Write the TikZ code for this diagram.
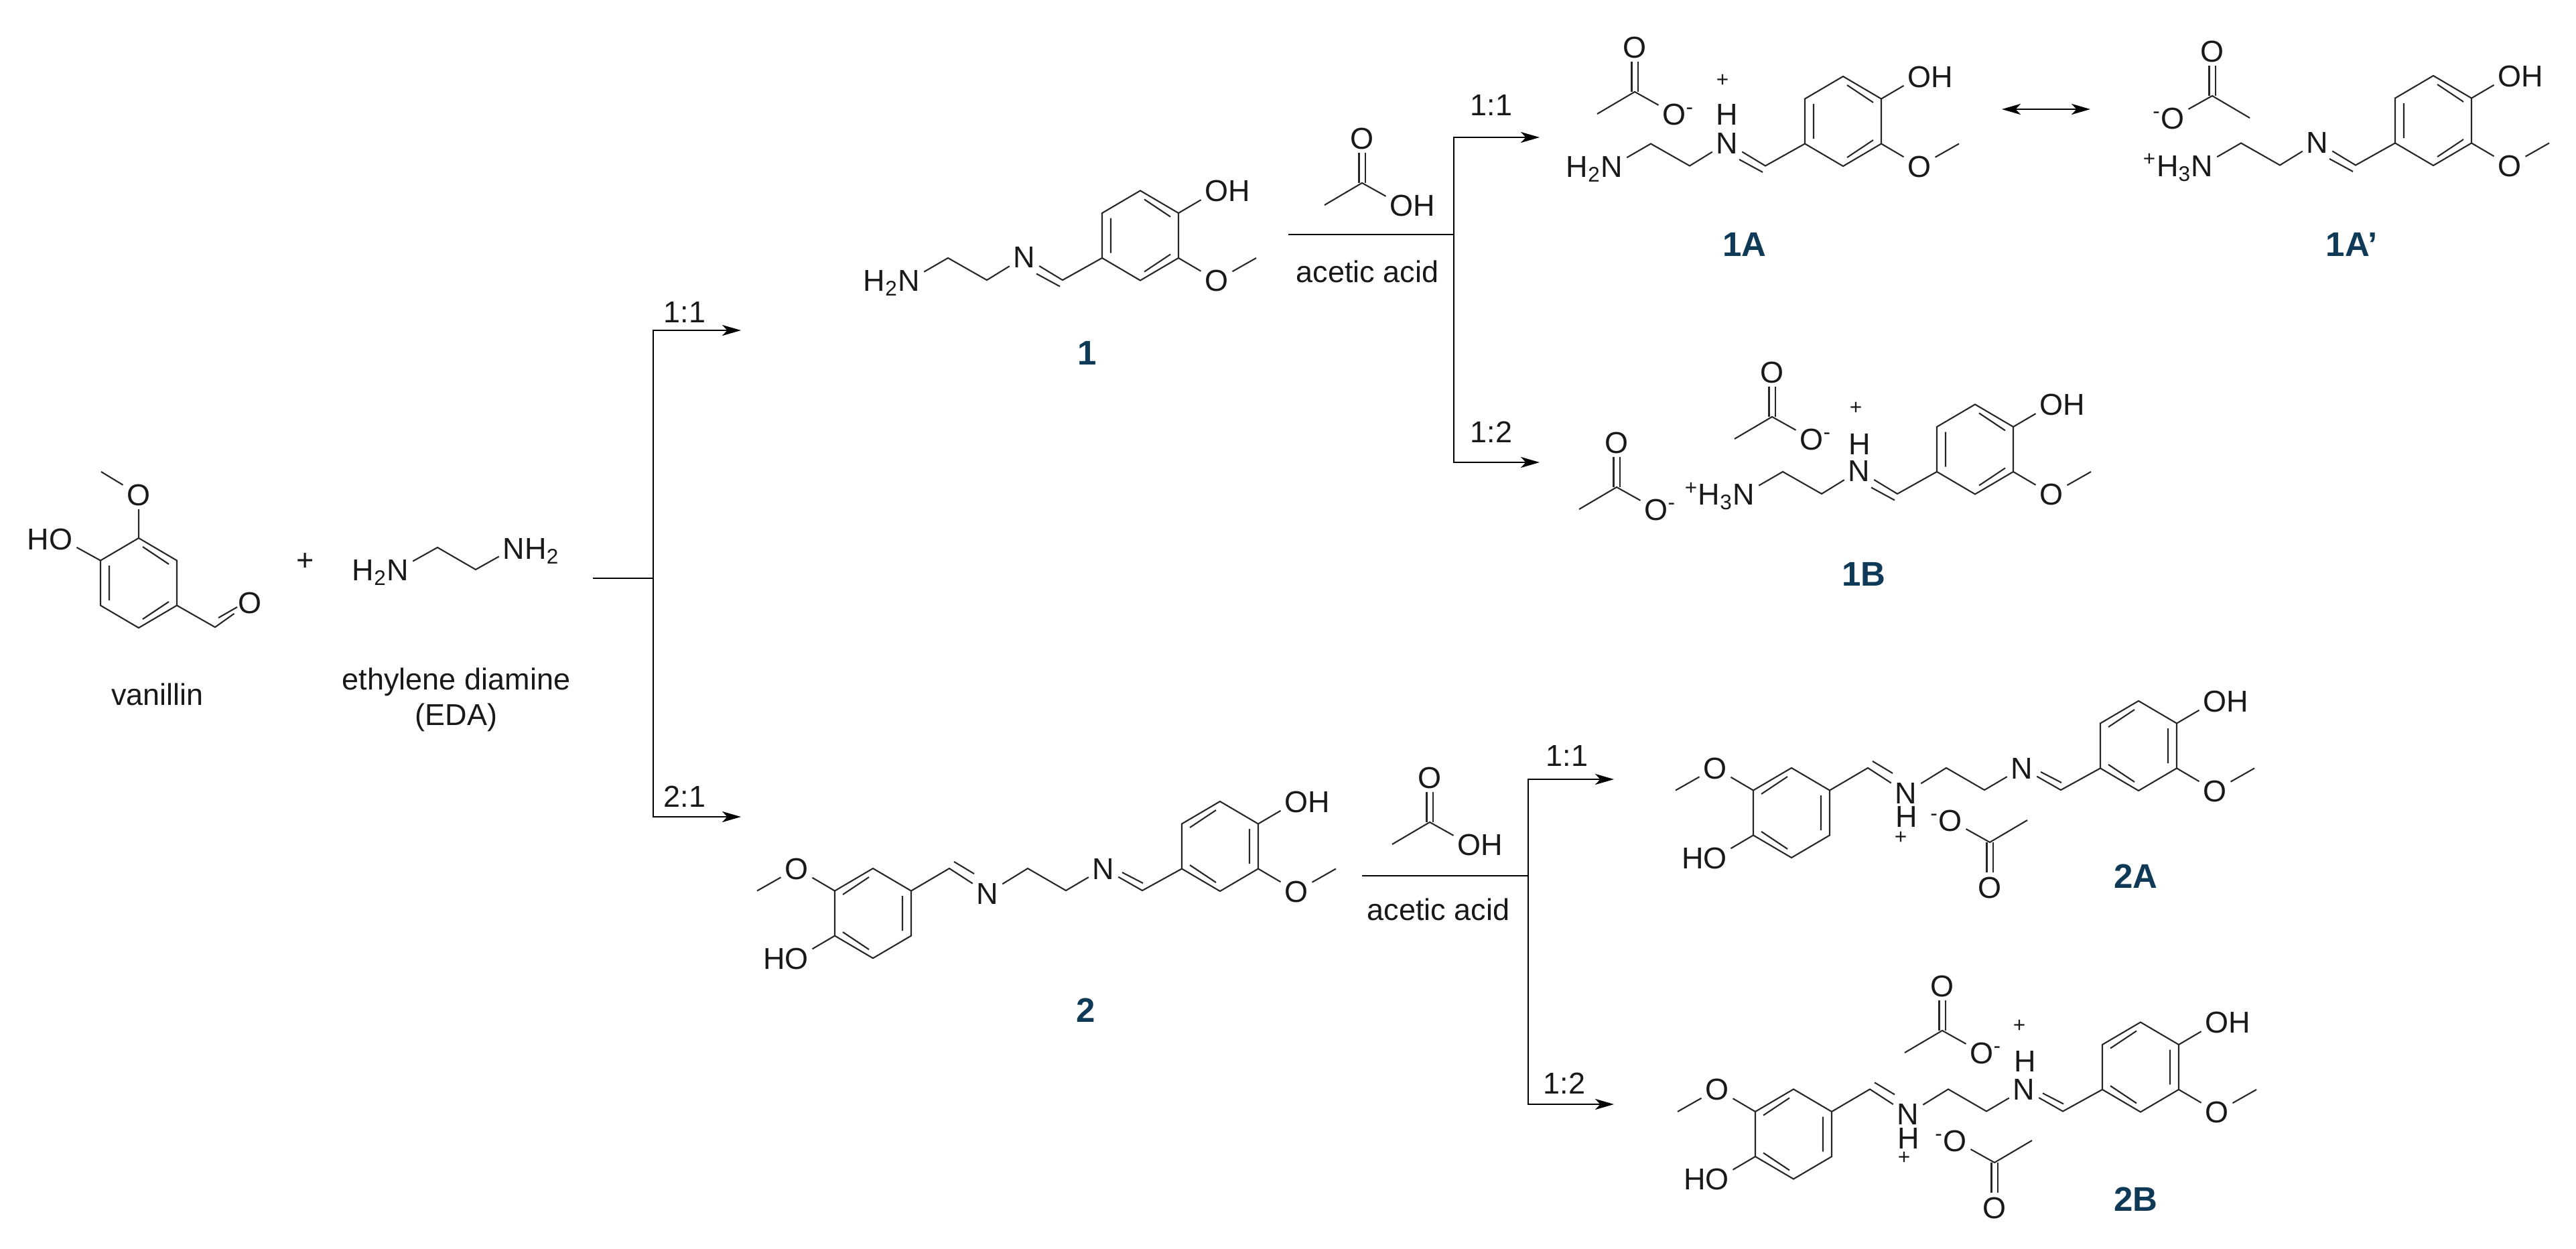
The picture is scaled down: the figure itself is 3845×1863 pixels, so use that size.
\documentclass[tikz,border=0pt]{standalone}
\usepackage{fontspec}
\setmainfont{Liberation Sans}
\usetikzlibrary{arrows.meta}
\definecolor{tagblue}{HTML}{0F3A57}
\tikzset{
  bond/.style={line width=0.6pt,draw=black!85},
  atom/.style={inner sep=1.5pt,text height=9.1pt,text depth=0pt,text=black!90,font=\fontsize{12.8}{15}\selectfont},
  lab/.style={text=black!90,font=\fontsize{12.8}{15}\selectfont,align=center},
  chg/.style={text=black!90,font=\fontsize{9}{10}\selectfont},
  tag/.style={text=tagblue,font=\fontsize{14.5}{17}\selectfont\bfseries},
  rline/.style={line width=0.7pt,draw=black},
  rarrow/.style={rline,-{Stealth[length=8pt,width=4.6pt,inset=2.2pt]}},
  reson/.style={rline,{Stealth[length=8pt,width=4.6pt,inset=2.2pt]}-{Stealth[length=8pt,width=4.6pt,inset=2.2pt]}},
  pics/hexring/.style={code={
    \coordinate (-t) at (0,-67);
    \coordinate (-ur) at (57,-33.5);
    \coordinate (-lr) at (57,33.5);
    \coordinate (-b) at (0,67);
    \coordinate (-ll) at (-57,33.5);
    \coordinate (-ul) at (-57,-33.5);
    \draw[bond] (-t) -- (-ur) -- (-lr) -- (-b) -- (-ll) -- (-ul) -- cycle;
    \draw[bond,xscale=#1] (-44,-26) -- (-44,26) (6,-54) -- (45,-28) (6,54) -- (45,28);
  }},
  pics/vanright/.style={code={
    \pic {hexring=#1};
    \node[atom] (-oh) at (114,-67) {O\rlap{H}};
    \node[atom] (-ome) at (114,67) {O};
    \coordinate (-me) at (173,33.5);
    \draw[bond] (-ur) -- (-oh);
    \draw[bond] (-lr) -- (-ome) -- (-me);
  }},
  pics/vanleft/.style={code={
    \pic {hexring=-1};
    \node[atom] (-oh) at (-114,67) {\llap{H}O};
    \node[atom] (-ome) at (-114,-67) {O};
    \coordinate (-me) at (-173,-33.5);
    \draw[bond] (-ll) -- (-oh);
    \draw[bond] (-ul) -- (-ome) -- (-me);
  }},
  pics/monoimine/.style={code={
    \pic {vanright=1};
    \coordinate (-c) at (-116,66.5);
    \node[atom] (-n) at (-173,32) {N};
    \coordinate (-a1) at (-229,66.5);
    \coordinate (-a2) at (-287,33.5);
    \node[atom] (-nt) at (-345,67) {#1};
    \draw[bond] (-ll) -- (-c) -- (-n) -- (-a1) -- (-a2) -- (-nt);
    \draw[bond] (-155,57) -- (-120,76);
  }},
  pics/bisimine/.style={code={
    \pic {vanright=-1};
    \pic (-l) at (-518,100) {vanleft};
    \coordinate (-c1) at (-116,66);
    \node[atom] (-n1) at (-174,33) {N};
    \coordinate (-a1) at (-230,66);
    \coordinate (-a2) at (-287,33);
    \node[atom] (-n2) at (-347,70) {N};
    \coordinate (-c2) at (-404,33);
    \draw[bond] (-ll) -- (-c1) -- (-n1) -- (-a1) -- (-a2) -- (-n2) -- (-c2) -- (-l-ur);
    \draw[bond] (-146,39) -- (-115,55);
    \draw[bond] (-397,23) -- (-367,41);
  }},
  pics/acetyl/.style={code={
    \coordinate (-c) at (0,0);
    \coordinate (-me) at (-56,33);
    \node[atom] (-oo) at (0,-67) {O};
    \node[atom] (-ox) at (59,33) {#1};
    \draw[bond,double,double distance=2pt] (-c) -- (-oo);
    \draw[bond] (-me) -- (-c) -- (-ox);
  }},
}
\begin{document}
\begin{tikzpicture}[x=0.01cm,y=-0.01cm]
  \useasboundingbox (0,0) rectangle (3845,1863);

  \pic (van) at (207,870) {hexring=1};
  \node[atom] (vo) at (207,738) {O};
  \node[atom] (vh) at (91,804) {\llap{H}O};
  \node[atom] (vald) at (373,899) {O};
  \coordinate (vme) at (151,704);
  \coordinate (vc) at (321,936);
  \draw[bond] (vme) -- (vo) -- (van-t);
  \draw[bond] (vh) -- (van-ul);
  \draw[bond] (van-lr) -- (vc) -- (vald);
  \draw[bond] (326,922) -- (354,906);
  \node[lab] (vname) at (235,1036) {vanillin};
  \node[lab] (plus) at (456,838) {+};

  \node[atom] (en1) at (594,850) {\llap{H\textsubscript{2}}N};
  \node[atom] (en2) at (767,818) {N\rlap{H\textsubscript{2}}};
  \coordinate (ea1) at (653,817);
  \coordinate (ea2) at (710,850);
  \draw[bond] (en1) -- (ea1) -- (ea2) -- (en2);
  \node[lab] (ename) at (681,1044) {ethylene diamine\\(EDA)};

  \coordinate (b0s) at (885,863);
  \coordinate (b0j) at (975,863);
  \coordinate (b0u) at (1106,493);
  \coordinate (b0d) at (1106,1219);
  \draw[rline] (b0s) -- (b0j);
  \draw[rarrow] (b0j) |- (b0u);
  \draw[rarrow] (b0j) |- (b0d);
  \node[lab] (r11) at (1022,466) {1:1};
  \node[lab] (r21) at (1022,1189) {2:1};

  \pic (m1) at (1702,351.5) {monoimine={\llap{H\textsubscript{2}}N}};
  \node[tag] (t1) at (1623,527) {1};

  \pic (ac1) at (2033,273) {acetyl={O\rlap{H}}};
  \node[lab] (aname1) at (2041,405) {acetic acid};
  \coordinate (b1s) at (1923,350);
  \coordinate (b1j) at (2170,350);
  \coordinate (b1u) at (2298,205);
  \coordinate (b1d) at (2298,690);
  \draw[rline] (b1s) -- (b1j);
  \draw[rarrow] (b1j) |- (b1u);
  \draw[rarrow] (b1j) |- (b1d);
  \node[lab] (r1a) at (2226,157) {1:1};
  \node[lab] (r1b) at (2226,645) {1:2};

  \pic (m1a) at (2751,181) {monoimine={\llap{H\textsubscript{2}}N}};
  \pic (ac1a) at (2440,137) {acetyl={O\rlap{\textsuperscript{-}}}};
  \node[atom] (h1a) at (2578,170) {H};
  \node[chg] (p1a) at (2571,120) {+};
  \node[tag] (t1a) at (2604,365) {1A};

  \coordinate (resl) at (2988,163);
  \coordinate (resr) at (3120,163);
  \draw[reson] (resl) -- (resr);

  \pic (m1p) at (3632,180) {monoimine={\llap{\textsuperscript{+}H\textsubscript{3}}N}};
  \pic[xscale=-1] (ac1p) at (3302,143) {acetyl={\llap{\textsuperscript{-}}O}};
  \node[tag] (t1p) at (3510,365) {1A’};

  \pic (m1b) at (2948,670.5) {monoimine={\llap{\textsuperscript{+}H\textsubscript{3}}N}};
  \pic (ac1b) at (2645,622) {acetyl={O\rlap{\textsuperscript{-}}}};
  \pic (ac1c) at (2413,727) {acetyl={O\rlap{\textsuperscript{-}}}};
  \node[atom] (h1b) at (2776,662) {H};
  \node[chg] (p1b) at (2770,609) {+};
  \node[tag] (t1b) at (2782,857) {1B};

  \pic (m2) at (1821,1263) {bisimine};
  \node[tag] (t2) at (1621,1508) {2};

  \pic (ac2) at (2134,1227) {acetyl={O\rlap{H}}};
  \node[lab] (aname2) at (2147,1357) {acetic acid};
  \coordinate (b2s) at (2033,1307);
  \coordinate (b2j) at (2281,1307);
  \coordinate (b2u) at (2409,1163);
  \coordinate (b2d) at (2409,1648);
  \draw[rline] (b2s) -- (b2j);
  \draw[rarrow] (b2j) |- (b2u);
  \draw[rarrow] (b2j) |- (b2d);
  \node[lab] (r2a) at (2339,1128) {1:1};
  \node[lab] (r2b) at (2335,1617) {1:2};

  \pic (m2a) at (3192,1113) {bisimine};
  \pic[xscale=-1,yscale=-1] (ac2a) at (2970,1257) {acetyl={\llap{\textsuperscript{-}}O}};
  \node[atom] (h2a) at (2846,1218) {H};
  \node[chg] (p2a) at (2837,1250) {+};
  \node[tag] (t2a) at (3188,1308) {2A};

  \pic (m2b) at (3195,1592.5) {bisimine};
  \pic (ac2b) at (2899,1538) {acetyl={O\rlap{\textsuperscript{-}}}};
  \pic[xscale=-1,yscale=-1] (ac2c) at (2977,1735) {acetyl={\llap{\textsuperscript{-}}O}};
  \node[atom] (h2b) at (2849,1698) {H};
  \node[chg] (p2b) at (2842,1728) {+};
  \node[atom] (h2c) at (3023,1583) {H};
  \node[chg] (p2c) at (3014,1531) {+};
  \node[tag] (t2b) at (3188,1790) {2B};
\end{tikzpicture}
\end{document}
